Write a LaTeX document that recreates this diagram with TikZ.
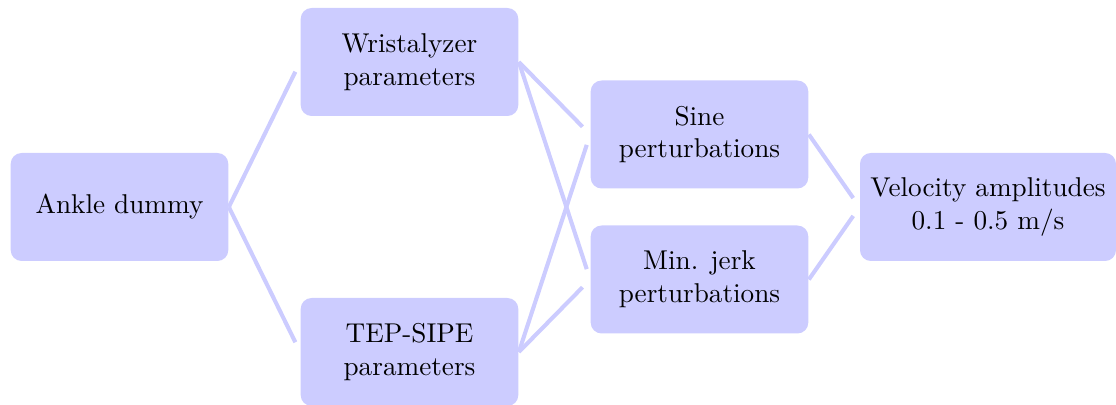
\documentclass[tikz,border=0pt]{standalone}
\begin{document}
\begin{tikzpicture}[x=0.3676pt,y=-0.3676pt,
  box/.style={fill=blue!20, rounded corners=4pt, minimum width=80pt, minimum height=39.7pt, align=center, inner sep=3.33pt},
  link/.style={draw=blue!20, line width=1.5pt, shorten >=4pt}]
\useasboundingbox (0,0) rectangle (1116,405);
\node[box] (ankle) at (119.5,207) {Ankle dummy};
\node[box] (wrist) at (409.5,62) {Wristalyzer\\parameters};
\node[box] (tep) at (409.5,352) {TEP-SIPE\\parameters};
\node[box] (sine) at (699.5,134.5) {Sine\\perturbations};
\node[box] (jerk) at (699.5,279.5) {Min. jerk\\perturbations};
\node[box, minimum width=94.1pt] (vel) at (988,207) {Velocity amplitudes\\0.1 - 0.5 m/s};
\draw[link] (ankle.east) -- (wrist.west);
\draw[link] (ankle.east) -- (tep.west);
\draw[link] (wrist.east) -- (sine.west);
\draw[link] (wrist.east) -- (jerk.west);
\draw[link] (tep.east) -- (sine.west);
\draw[link] (tep.east) -- (jerk.west);
\draw[link] (sine.east) -- (vel.west);
\draw[link] (jerk.east) -- (vel.west);
\end{tikzpicture}
\end{document}
